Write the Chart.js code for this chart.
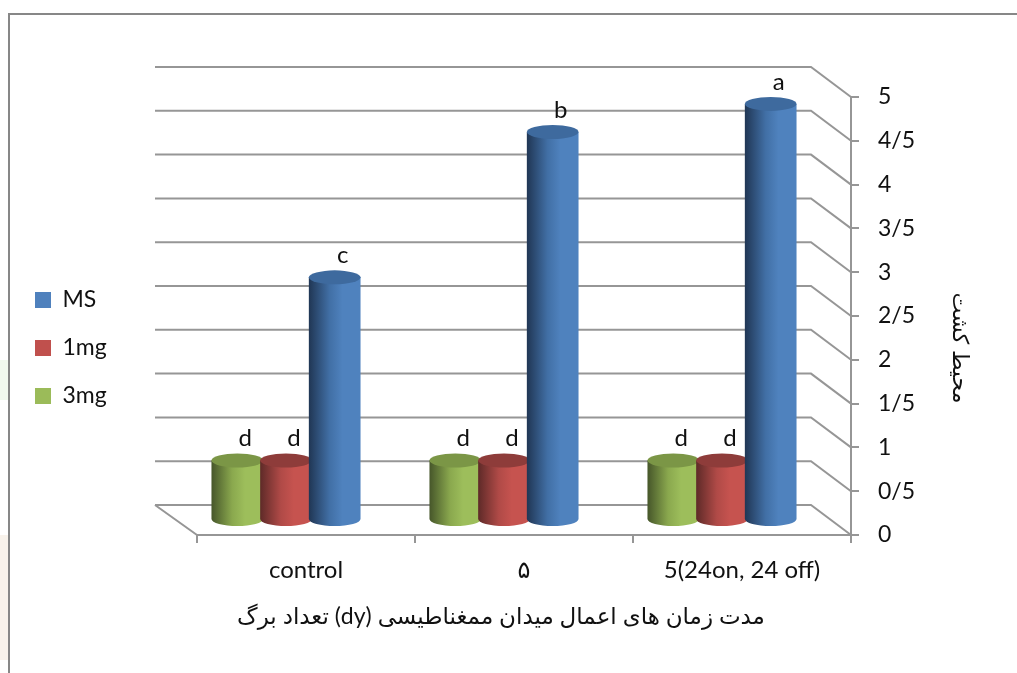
<!DOCTYPE html>
<html>
<head>
<meta charset="utf-8">
<style>
    html, body { margin: 0; padding: 0; background: #fff; }
    canvas { display: block; }
</style>
<script src="https://cdn.jsdelivr.net/npm/chart.js@4"></script>
</head>
<body>
<canvas id="myChart" width="1017" height="673"></canvas>
<script>
const categories = ['control', '۵', '5(24on, 24 off)'];
const seriesNames = ['3mg', '1mg', 'MS'];
const values3mg = [0.68, 0.68, 0.68];
const values1mg = [0.68, 0.68, 0.68];
const valuesMS = [2.77, 4.43, 4.75];
const letters3mg = ['d', 'd', 'd'];
const letters1mg = ['d', 'd', 'd'];
const lettersMS = ['c', 'b', 'a'];
const yTickLabels = ['0', '0/5', '1', '1/5', '2', '2/5', '3', '3/5', '4', '4/5', '5'];
const xAxisTitle = 'مدت زمان های اعمال میدان ممغناطیسی (dy) تعداد برگ';
const yAxisTitle = 'محیط کشت';

const FONT = 'Lato, "DejaVu Sans", sans-serif';
const GRID = '#969696';
const DEPTH_X = 40;
const DEPTH_Y = 30;

// left, middle and right of each cylinder, then the colour of its cap
const shades = {
    '3mg': ['#46562a', '#8aa84e', '#9dbe5b', '#7b9646'],
    '1mg': ['#5e2a28', '#b04a47', '#c6534f', '#8e3c3a'],
    'MS': ['#203654', '#416fa5', '#4f82be', '#3e6a9e']
};

const seriesLetters = {
    '3mg': letters3mg,
    '1mg': letters1mg,
    'MS': lettersMS
};

const wallsAndCylinders = {
    id: 'wallsAndCylinders',
    beforeDraw(chart) {
        const ctx = chart.ctx;
        ctx.save();
        ctx.fillStyle = '#fff';
        ctx.fillRect(0, 0, chart.width, chart.height);

        // faint page watermark showing down the left edge
        ctx.fillStyle = '#f1f8ee';
        ctx.fillRect(0, 360, 8, 40);
        ctx.fillStyle = '#f8f2eb';
        ctx.fillRect(0, 535, 8, 125);

        ctx.strokeStyle = '#878787';
        ctx.lineWidth = 2;
        ctx.beginPath();
        ctx.moveTo(9, 673);
        ctx.lineTo(9, 14);
        ctx.lineTo(1017, 14);
        ctx.stroke();
        ctx.restore();
    },
    afterLayout(chart) {
        chart.legend.left = 10;
        chart.legend.top -= 37;
        chart.legend.bottom -= 37;
    },
    beforeDatasetsDraw(chart) {
        const ctx = chart.ctx;
        const { x, y } = chart.scales;
        ctx.save();
        ctx.strokeStyle = GRID;
        ctx.lineWidth = 2;
        ctx.beginPath();
        y.ticks.forEach(tick => {
            const py = y.getPixelForValue(tick.value);
            ctx.moveTo(x.left - DEPTH_X - 2, py - DEPTH_Y);
            ctx.lineTo(x.right - DEPTH_X, py - DEPTH_Y);
            ctx.lineTo(x.right, py);
        });
        ctx.moveTo(x.left - DEPTH_X - 2, y.bottom - DEPTH_Y);
        ctx.lineTo(x.left, y.bottom);
        ctx.stroke();
        ctx.restore();
    },
    beforeDatasetDraw() {
        return false;
    },
    afterDatasetsDraw(chart) {
        const ctx = chart.ctx;
        chart.data.datasets.forEach((dataset, i) => {
            chart.getDatasetMeta(i).data.forEach((bar, j) => {
                drawCylinder(ctx, bar, shades[dataset.label]);
                ctx.save();
                ctx.fillStyle = '#111';
                ctx.font = '24px ' + FONT;
                ctx.textAlign = 'center';
                ctx.textBaseline = 'middle';
                ctx.fillText(seriesLetters[dataset.label][j], bar.x - 12, bar.y - 15 - 22);
                ctx.restore();
            });
        });

        // axis titles sit off-centre in the original, so they go in by hand
        ctx.save();
        ctx.fillStyle = '#111';
        ctx.textAlign = 'center';
        ctx.textBaseline = 'middle';
        ctx.direction = 'rtl';
        ctx.font = '23px ' + FONT;
        ctx.fillText(xAxisTitle, 501, 617);
        ctx.font = '22px ' + FONT;
        ctx.translate(960, 348);
        ctx.rotate(Math.PI / 2);
        ctx.fillText(yAxisTitle, 0, 0);
        ctx.restore();
    }
};

function drawCylinder(ctx, bar, colors) {
    const cx = bar.x - 20;
    const half = bar.width / 2 + 1.5;
    const top = bar.y - 15;
    const base = bar.base - 15;
    const ry = 7;

    const gradient = ctx.createLinearGradient(cx - half, 0, cx + half, 0);
    gradient.addColorStop(0, colors[0]);
    gradient.addColorStop(0.4, colors[1]);
    gradient.addColorStop(0.65, colors[2]);
    gradient.addColorStop(1, colors[2]);

    ctx.save();
    ctx.fillStyle = gradient;
    ctx.beginPath();
    ctx.moveTo(cx - half, top);
    ctx.lineTo(cx - half, base);
    ctx.ellipse(cx, base, half, ry, 0, Math.PI, 0, true);
    ctx.lineTo(cx + half, top);
    ctx.closePath();
    ctx.fill();
    ctx.fillStyle = colors[3];
    ctx.beginPath();
    ctx.ellipse(cx, top, half, ry, 0, 0, Math.PI * 2);
    ctx.fill();
    ctx.restore();
}

new Chart(document.getElementById('myChart'), {
    type: 'bar',
    data: {
        labels: categories,
        datasets: [
            { label: seriesNames[0], data: values3mg, backgroundColor: '#9BBB59' },
            { label: seriesNames[1], data: values1mg, backgroundColor: '#C0504D' },
            { label: seriesNames[2], data: valuesMS, backgroundColor: '#4F81BD' }
        ]
    },
    options: {
        responsive: false,
        animation: false,
        categoryPercentage: 0.67,
        barPercentage: 1,
        layout: { padding: { left: 97, top: 97, right: 0, bottom: 0 } },
        plugins: {
            tooltip: { enabled: false },
            legend: {
                position: 'left',
                reverse: true,
                maxWidth: 100,
                labels: {
                    boxWidth: 16,
                    boxHeight: 16,
                    padding: 25,
                    color: '#111',
                    font: { size: 23, family: FONT }
                }
            }
        },
        scales: {
            x: {
                afterFit(scale) { scale.height = 138; },
                border: { color: GRID, width: 2 },
                grid: { drawOnChartArea: false, color: GRID, lineWidth: 2, tickLength: 8 },
                ticks: {
                    autoSkip: false,
                    maxRotation: 0,
                    padding: 13,
                    color: '#111',
                    font: { size: 24, family: FONT }
                }
            },
            y: {
                position: 'right',
                min: 0,
                max: 5,
                afterFit(scale) { scale.width = 166; },
                border: { color: GRID, width: 2 },
                grid: { drawOnChartArea: false, color: GRID, lineWidth: 2, tickLength: 8 },
                ticks: {
                    stepSize: 0.5,
                    autoSkip: false,
                    padding: 19,
                    color: '#111',
                    font: { size: 23, family: FONT },
                    callback: (value, index) => yTickLabels[index]
                }
            }
        }
    },
    plugins: [wallsAndCylinders]
});
</script>
</body>
</html>
